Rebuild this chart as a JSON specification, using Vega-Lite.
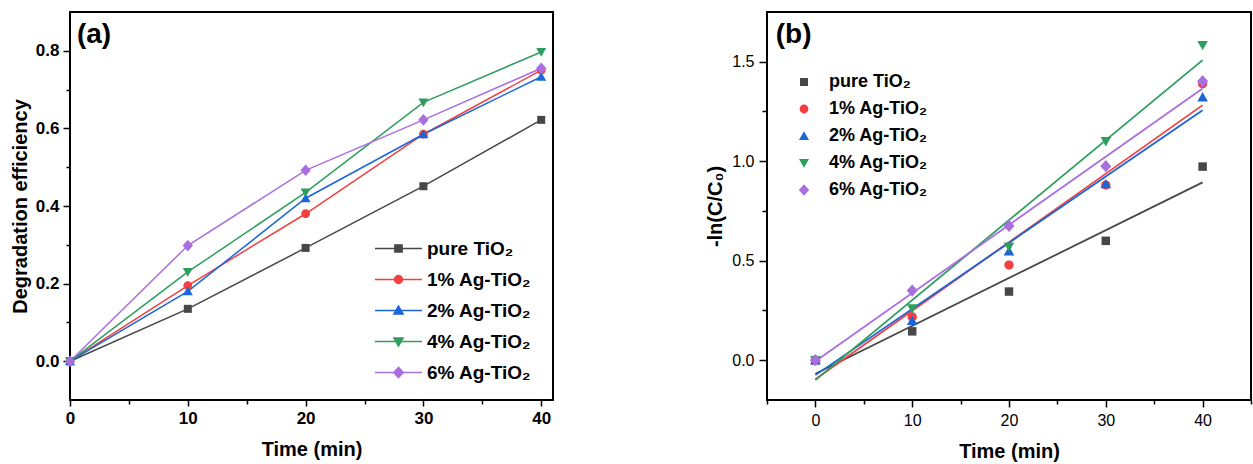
{
  "$schema": "https://vega.github.io/schema/vega-lite/v6.json",
  "background": "white",
  "padding": {"left": 9, "top": 11, "right": 0, "bottom": 0},
  "datasets": {
    "eff": [
      {"series": "pure TiO₂", "t": 0, "v": 0},
      {"series": "pure TiO₂", "t": 10, "v": 0.135},
      {"series": "pure TiO₂", "t": 20, "v": 0.292},
      {"series": "pure TiO₂", "t": 30, "v": 0.451},
      {"series": "pure TiO₂", "t": 40, "v": 0.622},
      {"series": "1% Ag-TiO₂", "t": 0, "v": 0},
      {"series": "1% Ag-TiO₂", "t": 10, "v": 0.195},
      {"series": "1% Ag-TiO₂", "t": 20, "v": 0.38},
      {"series": "1% Ag-TiO₂", "t": 30, "v": 0.585},
      {"series": "1% Ag-TiO₂", "t": 40, "v": 0.75},
      {"series": "2% Ag-TiO₂", "t": 0, "v": 0},
      {"series": "2% Ag-TiO₂", "t": 10, "v": 0.18},
      {"series": "2% Ag-TiO₂", "t": 20, "v": 0.42},
      {"series": "2% Ag-TiO₂", "t": 30, "v": 0.585},
      {"series": "2% Ag-TiO₂", "t": 40, "v": 0.733},
      {"series": "4% Ag-TiO₂", "t": 0, "v": 0},
      {"series": "4% Ag-TiO₂", "t": 10, "v": 0.23},
      {"series": "4% Ag-TiO₂", "t": 20, "v": 0.435},
      {"series": "4% Ag-TiO₂", "t": 30, "v": 0.667},
      {"series": "4% Ag-TiO₂", "t": 40, "v": 0.797},
      {"series": "6% Ag-TiO₂", "t": 0, "v": 0},
      {"series": "6% Ag-TiO₂", "t": 10, "v": 0.298},
      {"series": "6% Ag-TiO₂", "t": 20, "v": 0.492},
      {"series": "6% Ag-TiO₂", "t": 30, "v": 0.622},
      {"series": "6% Ag-TiO₂", "t": 40, "v": 0.755}
    ],
    "kin": [
      {"series": "pure TiO₂", "t": 0, "v": 0},
      {"series": "pure TiO₂", "t": 10, "v": 0.145},
      {"series": "pure TiO₂", "t": 20, "v": 0.345},
      {"series": "pure TiO₂", "t": 30, "v": 0.6},
      {"series": "pure TiO₂", "t": 40, "v": 0.973},
      {"series": "1% Ag-TiO₂", "t": 0, "v": 0},
      {"series": "1% Ag-TiO₂", "t": 10, "v": 0.217},
      {"series": "1% Ag-TiO₂", "t": 20, "v": 0.478},
      {"series": "1% Ag-TiO₂", "t": 30, "v": 0.88},
      {"series": "1% Ag-TiO₂", "t": 40, "v": 1.39},
      {"series": "2% Ag-TiO₂", "t": 0, "v": 0},
      {"series": "2% Ag-TiO₂", "t": 10, "v": 0.198},
      {"series": "2% Ag-TiO₂", "t": 20, "v": 0.548},
      {"series": "2% Ag-TiO₂", "t": 30, "v": 0.885},
      {"series": "2% Ag-TiO₂", "t": 40, "v": 1.322},
      {"series": "4% Ag-TiO₂", "t": 0, "v": 0},
      {"series": "4% Ag-TiO₂", "t": 10, "v": 0.26},
      {"series": "4% Ag-TiO₂", "t": 20, "v": 0.57},
      {"series": "4% Ag-TiO₂", "t": 30, "v": 1.1},
      {"series": "4% Ag-TiO₂", "t": 40, "v": 1.583},
      {"series": "6% Ag-TiO₂", "t": 0, "v": 0},
      {"series": "6% Ag-TiO₂", "t": 10, "v": 0.35},
      {"series": "6% Ag-TiO₂", "t": 20, "v": 0.675},
      {"series": "6% Ag-TiO₂", "t": 30, "v": 0.975},
      {"series": "6% Ag-TiO₂", "t": 40, "v": 1.402}
    ],
    "fit": [
      {"series": "pure TiO₂", "t": 0, "v": -0.068},
      {"series": "pure TiO₂", "t": 40, "v": 0.894},
      {"series": "1% Ag-TiO₂", "t": 0, "v": -0.096},
      {"series": "1% Ag-TiO₂", "t": 40, "v": 1.282},
      {"series": "2% Ag-TiO₂", "t": 0, "v": -0.075},
      {"series": "2% Ag-TiO₂", "t": 40, "v": 1.256},
      {"series": "4% Ag-TiO₂", "t": 0, "v": -0.1},
      {"series": "4% Ag-TiO₂", "t": 40, "v": 1.508},
      {"series": "6% Ag-TiO₂", "t": 0, "v": -0.005},
      {"series": "6% Ag-TiO₂", "t": 40, "v": 1.365}
    ]
  },
  "hconcat": [
    {
      "width": 483,
      "height": 388,
      "layer": [
        {
          "data": {"name": "eff"},
          "mark": {"type": "line", "strokeWidth": 1.5},
          "encoding": {
            "x": {"field": "t", "type": "quantitative", "scale": {"domain": [0, 41], "nice": false, "zero": false},
              "axis": {"title": "Time (min)", "values": [0, 5, 10, 15, 20, 25, 30, 35, 40],
                "labelExpr": "datum.value % 10 === 0 ? datum.label : ''",
                "tickSize": {"condition": {"test": "datum.value % 10 === 0", "value": 6}, "value": 4},
                "labelFontSize": 17, "labelFontWeight": "bold", "labelPadding": 4, "titlePadding": 13}},
            "y": {"field": "v", "type": "quantitative", "scale": {"domain": [-0.1, 0.9], "nice": false, "zero": false},
              "axis": {"title": "Degradation efficiency", "values": [0, 0.1, 0.2, 0.3, 0.4, 0.5, 0.6, 0.7, 0.8],
                "labelExpr": "round(datum.value * 10) % 2 === 0 ? format(datum.value, '.1f') : ''",
                "tickSize": {"condition": {"test": "round(datum.value * 10) % 2 === 0", "value": 7}, "value": 4},
                "labelFontSize": 17, "labelFontWeight": "bold", "labelPadding": 4, "titlePadding": 5}},
            "color": {"field": "series", "type": "nominal",
              "scale": {"domain": ["pure TiO₂", "1% Ag-TiO₂", "2% Ag-TiO₂", "4% Ag-TiO₂", "6% Ag-TiO₂"], "range": ["#474747", "#F23F3F", "#1B66D9", "#2E9E5E", "#AA6FDF"]},
              "legend": null}
          }
        },
        {
          "data": {"name": "eff"},
          "mark": {"type": "point", "filled": true, "size": 64, "opacity": 1, "strokeWidth": 0},
          "encoding": {
            "x": {"field": "t", "type": "quantitative"},
            "y": {"field": "v", "type": "quantitative"},
            "color": {"field": "series", "type": "nominal",
              "scale": {"domain": ["pure TiO₂", "1% Ag-TiO₂", "2% Ag-TiO₂", "4% Ag-TiO₂", "6% Ag-TiO₂"], "range": ["#474747", "#F23F3F", "#1B66D9", "#2E9E5E", "#AA6FDF"]},
              "legend": null},
            "shape": {"field": "series", "type": "nominal",
              "scale": {"domain": ["pure TiO₂", "1% Ag-TiO₂", "2% Ag-TiO₂", "4% Ag-TiO₂", "6% Ag-TiO₂"],
                "range": ["M-1,-1H1V1H-1Z", "M-1.1,0A1.1,1.1 0 1,0 1.1,0A1.1,1.1 0 1,0 -1.1,0Z", "M0,-1.2L1.25,1L-1.25,1Z", "M0,1.2L1.25,-1L-1.25,-1Z", "M0,-1.45L1.3,0L0,1.45L-1.3,0Z"]},
              "legend": null}
          }
        },
        {
          "data": {"name": "eff"},
          "transform": [{"filter": "datum.t < 0"}],
          "mark": {"type": "point", "filled": true, "size": 64, "opacity": 1},
          "encoding": {
            "x": {"field": "t", "type": "quantitative"},
            "y": {"field": "v", "type": "quantitative"},
            "fill": {"field": "series", "type": "nominal",
              "scale": {"domain": ["pure TiO₂", "1% Ag-TiO₂", "2% Ag-TiO₂", "4% Ag-TiO₂", "6% Ag-TiO₂"], "range": ["#474747", "#F23F3F", "#1B66D9", "#2E9E5E", "#AA6FDF"]},
              "legend": {"orient": "none", "legendX": 319, "legendY": 227, "title": null, "symbolSize": 64, "symbolStrokeWidth": 1.5, "symbolOpacity": 1, "labelOffset": 19, "labelFontSize": 19, "rowPadding": 11, "padding": 0}},
            "stroke": {"field": "series", "type": "nominal",
              "scale": {"domain": ["pure TiO₂", "1% Ag-TiO₂", "2% Ag-TiO₂", "4% Ag-TiO₂", "6% Ag-TiO₂"], "range": ["#474747", "#F23F3F", "#1B66D9", "#2E9E5E", "#AA6FDF"]},
              "legend": {"orient": "none", "legendX": 319, "legendY": 227, "title": null, "symbolSize": 64, "symbolStrokeWidth": 1.5, "symbolOpacity": 1, "labelOffset": 19, "labelFontSize": 19, "rowPadding": 11, "padding": 0}},
            "shape": {"field": "series", "type": "nominal",
              "scale": {"domain": ["pure TiO₂", "1% Ag-TiO₂", "2% Ag-TiO₂", "4% Ag-TiO₂", "6% Ag-TiO₂"],
                "range": ["M-5.875,0H5.875M-0.9,-0.9H0.9V0.9H-0.9Z", "M-5.875,0H5.875M-1,0A1,1 0 1,0 1,0A1,1 0 1,0 -1,0Z", "M-5.875,0H5.875M0,-1.1L1.15,0.9L-1.15,0.9Z", "M-5.875,0H5.875M0,1.1L1.15,-0.9L-1.15,-0.9Z", "M-5.875,0H5.875M0,-1.3L1.2,0L0,1.3L-1.2,0Z"]},
              "legend": {"orient": "none", "legendX": 319, "legendY": 227, "title": null, "symbolSize": 64, "symbolStrokeWidth": 1.5, "symbolOpacity": 1, "labelOffset": 19, "labelFontSize": 19, "rowPadding": 11, "padding": 0}}
          }
        },
        {
          "data": {"values": [{"label": "(a)"}]},
          "mark": {"type": "text", "align": "left", "baseline": "alphabetic", "fontSize": 28, "fontWeight": "bold", "font": "Arial", "color": "black"},
          "encoding": {
            "text": {"field": "label", "type": "nominal"},
            "x": {"datum": 0.59, "type": "quantitative"},
            "y": {"datum": 0.82, "type": "quantitative"}
          }
        }
      ],
      "resolve": {
        "scale": {"shape": "independent", "fill": "independent", "stroke": "independent"},
        "legend": {"shape": "independent", "fill": "independent", "stroke": "independent"}
      }
    },
    {
      "width": 484,
      "height": 388,
      "layer": [
        {
          "data": {"name": "fit"},
          "mark": {"type": "line", "strokeWidth": 1.8},
          "encoding": {
            "x": {"field": "t", "type": "quantitative", "scale": {"domain": [-5, 45], "nice": false, "zero": false},
              "axis": {"title": "Time (min)", "values": [-5, 0, 5, 10, 15, 20, 25, 30, 35, 40, 45],
                "labelExpr": "datum.value % 10 === 0 && datum.value >= 0 && datum.value <= 40 ? datum.label : ''",
                "tickSize": {"condition": {"test": "datum.value % 10 === 0", "value": 7}, "value": 4},
                "labelFontSize": 16, "labelFontWeight": "normal", "labelPadding": 5, "titlePadding": 13}},
            "y": {"field": "v", "type": "quantitative", "scale": {"domain": [-0.2, 1.75], "nice": false, "zero": false},
              "axis": {"title": "-ln(C/C₀)", "values": [0, 0.25, 0.5, 0.75, 1, 1.25, 1.5],
                "labelExpr": "round(datum.value * 4) % 2 === 0 ? format(datum.value, '.1f') : ''",
                "tickSize": {"condition": {"test": "round(datum.value * 4) % 2 === 0", "value": 8}, "value": 5},
                "labelFontSize": 16, "labelFontWeight": "normal", "labelPadding": 5, "titlePadding": 6}},
            "color": {"field": "series", "type": "nominal",
              "scale": {"domain": ["pure TiO₂", "1% Ag-TiO₂", "2% Ag-TiO₂", "4% Ag-TiO₂", "6% Ag-TiO₂"], "range": ["#474747", "#F23F3F", "#1B66D9", "#2E9E5E", "#AA6FDF"]},
              "legend": {"orient": "none", "legendX": 28, "legendY": 61, "title": null, "symbolSize": 64, "symbolStrokeWidth": 0, "symbolOpacity": 1, "labelOffset": 16, "labelFontSize": 18, "rowPadding": 9, "padding": 0}}
          }
        },
        {
          "data": {"name": "kin"},
          "mark": {"type": "point", "filled": true, "size": 72, "opacity": 1, "strokeWidth": 0},
          "encoding": {
            "x": {"field": "t", "type": "quantitative"},
            "y": {"field": "v", "type": "quantitative"},
            "color": {"field": "series", "type": "nominal",
              "scale": {"domain": ["pure TiO₂", "1% Ag-TiO₂", "2% Ag-TiO₂", "4% Ag-TiO₂", "6% Ag-TiO₂"], "range": ["#474747", "#F23F3F", "#1B66D9", "#2E9E5E", "#AA6FDF"]},
              "legend": {"orient": "none", "legendX": 28, "legendY": 61, "title": null, "symbolSize": 64, "symbolStrokeWidth": 0, "symbolOpacity": 1, "labelOffset": 16, "labelFontSize": 18, "rowPadding": 9, "padding": 0}},
            "shape": {"field": "series", "type": "nominal",
              "scale": {"domain": ["pure TiO₂", "1% Ag-TiO₂", "2% Ag-TiO₂", "4% Ag-TiO₂", "6% Ag-TiO₂"],
                "range": ["M-1,-1H1V1H-1Z", "M-1.1,0A1.1,1.1 0 1,0 1.1,0A1.1,1.1 0 1,0 -1.1,0Z", "M0,-1.2L1.25,1L-1.25,1Z", "M0,1.2L1.25,-1L-1.25,-1Z", "M0,-1.45L1.3,0L0,1.45L-1.3,0Z"]},
              "legend": {"orient": "none", "legendX": 28, "legendY": 61, "title": null, "symbolSize": 64, "symbolStrokeWidth": 0, "symbolOpacity": 1, "labelOffset": 16, "labelFontSize": 18, "rowPadding": 9, "padding": 0}}
          }
        },
        {
          "data": {"values": [{"label": "(b)"}]},
          "mark": {"type": "text", "align": "left", "baseline": "alphabetic", "fontSize": 28, "fontWeight": "bold", "font": "Arial", "color": "black"},
          "encoding": {
            "text": {"field": "label", "type": "nominal"},
            "x": {"datum": -4.1, "type": "quantitative"},
            "y": {"datum": 1.594, "type": "quantitative"}
          }
        }
      ]
    }
  ],
  "spacing": 150,
  "resolve": {
    "scale": {"color": "independent", "shape": "independent", "fill": "independent", "stroke": "independent"},
    "legend": {"color": "independent", "shape": "independent", "fill": "independent", "stroke": "independent"}
  },
  "config": {
    "font": "Arial",
    "view": {"stroke": "black", "strokeWidth": 2},
    "axis": {"domain": false, "grid": false, "tickColor": "black", "tickWidth": 1.5, "labelColor": "black", "titleColor": "black", "labelFont": "Arial", "titleFont": "Arial", "labelFlush": false, "labelOverlap": false, "titleFontWeight": "bold", "titleFontSize": 20},
    "legend": {"labelFont": "Arial", "labelFontWeight": "bold", "labelColor": "black"}
  }
}
